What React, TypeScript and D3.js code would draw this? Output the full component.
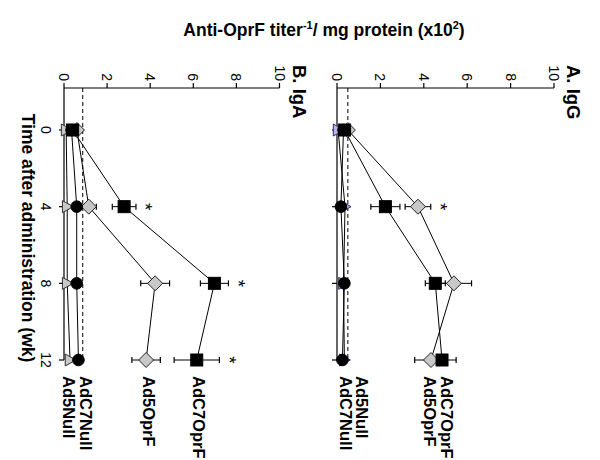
import React from 'react';
import * as d3 from 'd3';

// ---------- data ----------
const times = [0, 4, 8, 12];
const timeTicks = [0, 4, 8, 12];
const titerTicks = [0, 2, 4, 6, 8, 10];
const seriesNames = ['AdC7OprF', 'Ad5OprF', 'AdC7Null', 'Ad5Null'];

// Panel A: IgG
const iggAdC7OprF = [0.35, 2.23, 4.53, 4.84];
const iggAdC7OprFErr = [0.12, 0.67, 0.46, 0.65];
const iggAd5OprF = [0.5, 3.73, 5.39, 4.33];
const iggAd5OprFErr = [0.15, 0.59, 0.81, 0.75];
const iggAdC7Null = [0.3, 0.18, 0.34, 0.25];
const iggAdC7NullErr = [0.1, 0.05, 0.05, 0.05];
const iggAd5Null = [0.05, 0.37, 0.3, 0.34];
const iggAd5NullErr = [0.05, 0.05, 0.05, 0.05];
const iggStarsAd5OprF = [false, true, false, false];
const iggCutoff = 0.5;

// Panel B: IgA
const igaAdC7OprF = [0.4, 2.79, 6.98, 6.16];
const igaAdC7OprFErr = [0.12, 0.55, 0.65, 1.05];
const igaAd5OprF = [0.6, 1.15, 4.23, 3.81];
const igaAd5OprFErr = [0.12, 0.35, 0.67, 0.66];
const igaAdC7Null = [0.35, 0.59, 0.59, 0.67];
const igaAdC7NullErr = [0.1, 0.05, 0.05, 0.05];
const igaAd5Null = [0.1, 0.15, 0.15, 0.28];
const igaAd5NullErr = [0.05, 0.05, 0.05, 0.05];
const igaStarsAdC7OprF = [false, true, true, true];
const igaCutoff = 0.87;

// ---------- layout ----------
const FONT = "'Liberation Sans', Arial, Helvetica, sans-serif";
const AXIS_START = 88; // original x where titer axis sits
const timeScale = d3.scaleLinear().domain([0, 12]).range([130, 360]);

type Series = { name: string; vals: number[]; errs: number[]; stars: boolean[]; labelAt: number };
type Panel = {
  title: string;
  y0: number;
  y10: number;
  cutoff: number;
  showTimeLabels: boolean;
  triFill: string;
  triStroke: string;
  series: Series[];
};

const none = [false, false, false, false];

const panels: Panel[] = [
  {
    title: 'A. IgG',
    y0: 600 - 337,
    y10: 600 - 554,
    cutoff: iggCutoff,
    showTimeLabels: false,
    triFill: '#b4b6e4',
    triStroke: '#2c2c70',
    series: [
      { name: seriesNames[0], vals: iggAdC7OprF, errs: iggAdC7OprFErr, stars: none, labelAt: 5.07 },
      { name: seriesNames[1], vals: iggAd5OprF, errs: iggAd5OprFErr, stars: iggStarsAd5OprF, labelAt: 4.29 },
      { name: seriesNames[2], vals: iggAdC7Null, errs: iggAdC7NullErr, stars: none, labelAt: 0.41 },
      { name: seriesNames[3], vals: iggAd5Null, errs: iggAd5NullErr, stars: none, labelAt: 1.13 },
    ],
  },
  {
    title: 'B. IgA',
    y0: 600 - 64,
    y10: 600 - 279.5,
    cutoff: igaCutoff,
    showTimeLabels: true,
    triFill: '#c8c8c8',
    triStroke: '#333',
    series: [
      { name: seriesNames[0], vals: igaAdC7OprF, errs: igaAdC7OprFErr, stars: igaStarsAdC7OprF, labelAt: 6.27 },
      { name: seriesNames[1], vals: igaAd5OprF, errs: igaAd5OprFErr, stars: none, labelAt: 3.95 },
      { name: seriesNames[2], vals: igaAdC7Null, errs: igaAdC7NullErr, stars: none, labelAt: 1.0 },
      { name: seriesNames[3], vals: igaAd5Null, errs: igaAd5NullErr, stars: none, labelAt: 0.23 },
    ],
  },
];

function Marker({ kind, x, y, triFill, triStroke }: { kind: number; x: number; y: number; triFill: string; triStroke: string }) {
  if (kind === 0) {
    return <rect x={x - 6} y={y - 6} width={12} height={12} fill="#000" stroke="#000" strokeWidth={1} />;
  }
  if (kind === 1) {
    const r = 7.5;
    return (
      <path
        d={`M${x},${y - r}L${x + r},${y}L${x},${y + r}L${x - r},${y}Z`}
        fill="#c8c8c8"
        stroke="#222"
        strokeWidth={1}
      />
    );
  }
  if (kind === 2) {
    return <circle cx={x} cy={y} r={5.8} fill="#000" stroke="#000" strokeWidth={1} />;
  }
  const s = 6;
  return (
    <path
      d={`M${x},${y - s}L${x + s},${y + s * 0.8}L${x - s},${y + s * 0.8}Z`}
      fill={triFill}
      stroke={triStroke}
      strokeWidth={1}
    />
  );
}

function PanelView({ p }: { p: Panel }) {
  const yScale = d3.scaleLinear().domain([0, 10]).range([p.y0, p.y10]);
  const line = d3
    .line<number>()
    .x((_, i) => timeScale(times[i]))
    .y((d) => yScale(d));
  const drawOrder = [3, 1, 2, 0];
  return (
    <g>
      {/* panel label */}
      <text x={65} y={p.y10 - 13} fontFamily={FONT} fontWeight="bold" fontSize={18.5} fill="#000">
        {p.title}
      </text>
      {/* titer axis (original y) */}
      <line x1={AXIS_START} x2={AXIS_START} y1={yScale(0)} y2={yScale(10)} stroke="#000" strokeWidth={1.2} />
      {titerTicks.map((t) => (
        <g key={t}>
          <line x1={AXIS_START - 5} x2={AXIS_START} y1={yScale(t)} y2={yScale(t)} stroke="#000" strokeWidth={1.2} />
          <text
            x={AXIS_START - 7}
            y={yScale(t)}
            textAnchor="end"
            dominantBaseline="central"
            fontFamily={FONT}
            fontSize={14}
            fill="#000"
          >
            {t}
          </text>
        </g>
      ))}
      {/* time axis (original x) */}
      <line x1={AXIS_START} x2={timeScale(12)} y1={yScale(0)} y2={yScale(0)} stroke="#000" strokeWidth={1.2} />
      {timeTicks.map((t) => (
        <g key={t}>
          <line x1={timeScale(t)} x2={timeScale(t)} y1={yScale(0)} y2={yScale(0) + 5} stroke="#000" strokeWidth={1.2} />
          {p.showTimeLabels && (
            <text x={timeScale(t)} y={yScale(0) + 23} textAnchor="middle" fontFamily={FONT} fontSize={14} fill="#000">
              {t}
            </text>
          )}
        </g>
      ))}
      {/* cutoff */}
      <line
        x1={AXIS_START}
        x2={timeScale(12)}
        y1={yScale(p.cutoff)}
        y2={yScale(p.cutoff)}
        stroke="#000"
        strokeWidth={1}
        strokeDasharray="4,3"
      />
      {/* lines */}
      {p.series.map((s) => (
        <path key={s.name + 'l'} d={line(s.vals) || ''} fill="none" stroke="#000" strokeWidth={1} />
      ))}
      {/* error bars */}
      {drawOrder.map((k) => {
        const s = p.series[k];
        return (
          <g key={s.name + 'e'}>
            {s.vals.map((v, i) => {
              const x = timeScale(times[i]);
              const ya = yScale(v - s.errs[i]);
              const yb = yScale(v + s.errs[i]);
              return (
                <g key={i}>
                  <line x1={x} x2={x} y1={ya} y2={yb} stroke="#000" strokeWidth={1} />
                  <line x1={x - 3} x2={x + 3} y1={ya} y2={ya} stroke="#000" strokeWidth={1.2} />
                  <line x1={x - 3} x2={x + 3} y1={yb} y2={yb} stroke="#000" strokeWidth={1.2} />
                </g>
              );
            })}
          </g>
        );
      })}
      {/* markers */}
      {drawOrder.map((k) => {
        const s = p.series[k];
        return (
          <g key={s.name + 'm'}>
            {s.vals.map((v, i) => (
              <Marker key={i} kind={k} x={timeScale(times[i])} y={yScale(v)} triFill={p.triFill} triStroke={p.triStroke} />
            ))}
          </g>
        );
      })}
      {/* stars */}
      {p.series.map((s) =>
        s.stars.map((st, i) =>
          st ? (
            <text
              key={s.name + 's' + i}
              x={timeScale(times[i])}
              y={yScale(s.vals[i] + s.errs[i]) - 10}
              textAnchor="middle"
              dominantBaseline="central"
              fontFamily={FONT}
              fontSize={19}
              fill="#000"
            >
              *
            </text>
          ) : null
        )
      )}
      {/* series labels */}
      {p.series.map((s) => (
        <text
          key={s.name + 't'}
          x={376}
          y={yScale(s.labelAt)}
          dominantBaseline="central"
          fontFamily={FONT}
          fontWeight="bold"
          fontSize={16.5}
          fill="#000"
        >
          {s.name}
        </text>
      ))}
    </g>
  );
}

export default function App() {
  const panelB = panels[1];
  return (
    <svg
      width={600}
      height={460}
      viewBox="0 0 600 460"
      style={{ position: 'absolute', left: 0, top: 0, background: '#fff' }}
    >
      <rect x={0} y={0} width={600} height={460} fill="#fff" />
      <text x={324} y={36} textAnchor="middle" fontFamily={FONT} fontWeight="bold" fontSize={17.5} fill="#000">
        Anti-OprF titer
        <tspan fontSize={11} dy={-7}>-1</tspan>
        <tspan dy={7}>/ mg protein (x10</tspan>
        <tspan fontSize={11} dy={-7}>2</tspan>
        <tspan dy={7}>)</tspan>
      </text>
      <g transform="translate(600,0) rotate(90)">
        {panels.map((p) => (
          <PanelView key={p.title} p={p} />
        ))}
        <text
          x={238}
          y={panelB.y0 + 42}
          textAnchor="middle"
          fontFamily={FONT}
          fontWeight="bold"
          fontSize={17.5}
          fill="#000"
        >
          Time after administration (wk)
        </text>
      </g>
    </svg>
  );
}
